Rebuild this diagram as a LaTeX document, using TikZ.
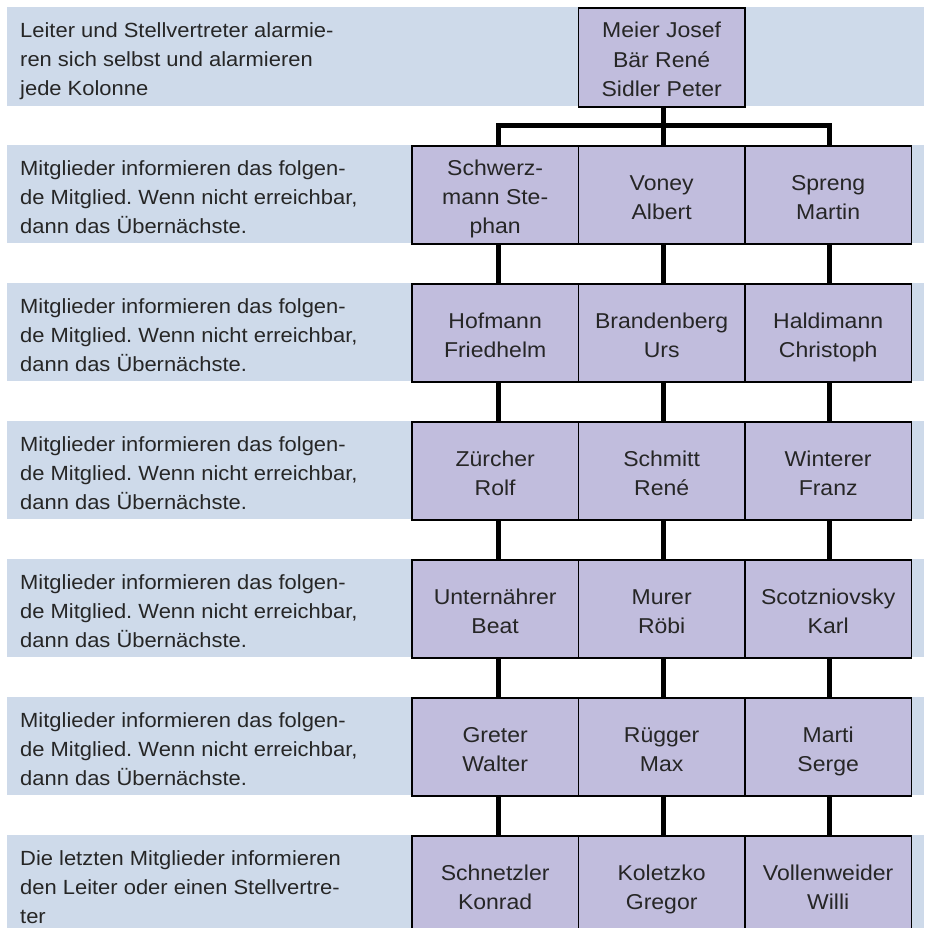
\documentclass[tikz,border=0pt]{standalone}
\usepackage{fontspec}
\usetikzlibrary{calc}
\setmainfont[FakeStretch=1.07]{Liberation Sans}
\frenchspacing
\definecolor{bandcol}{HTML}{CEDAEA}
\definecolor{boxcol}{HTML}{C1BDDD}
\definecolor{txtcol}{HTML}{262626}
\newcommand\srt{\rule{0pt}{24.9pt}}
\newcommand\srb{\rule[-5.5pt]{0pt}{0pt}}
\newcommand\pp[2]{\srt #1\\#2\srb}
\newcommand\ppp[3]{\srt #1\\#2\\#3\srb}
\tikzset{
  person/.style={draw=black, line width=1.8pt, fill=boxcol, minimum width=166.5pt,
    minimum height=98pt, inner sep=0pt, align=center, text=txtcol,
    font=\fontsize{21.5}{29.2}\selectfont},
  note/.style={anchor=north west, inner sep=0pt, align=left, text=txtcol,
    font=\fontsize{20.5}{29}\selectfont},
  conn/.style={line width=5pt, draw=black}
}
\newcommand\mkrow[6]{%
  \fill[bandcol] (7,#1) rectangle (924,#1+98);
  \node[note] at (20,#1+5.5) {#3};
  \node[person, anchor=north west] (#2a) at (411,#1) {#4};
  \node[person, anchor=north west] (#2b) at (577.5,#1) {#5};
  \node[person, anchor=north west] (#2c) at (744,#1) {#6};
}
\begin{document}
\begin{tikzpicture}[x=1pt,y=-1pt]
\useasboundingbox (0,0) rectangle (924,928);
\fill[white] (0,0) rectangle (924,928);
% top row
\fill[bandcol] (7,7) rectangle (924,106);
\node[note] (lead) at (20,12.5) {\ppp{Leiter und Stellvertreter alarmie-}{ren sich selbst und alarmieren}{jede Kolonne}};
\node[person, anchor=north west, minimum height=99pt] (top) at (577.5,7) {\ppp{Meier Josef}{Bär René}{Sidler Peter}};
% member rows
\mkrow{145}{ra}{\ppp{Mitglieder informieren das folgen-}{de Mitglied. Wenn nicht erreichbar,}{dann das Übernächste.}}{\ppp{Schwerz-}{mann Ste-}{phan}}{\pp{Voney}{Albert}}{\pp{Spreng}{Martin}}
\mkrow{283}{rb}{\ppp{Mitglieder informieren das folgen-}{de Mitglied. Wenn nicht erreichbar,}{dann das Übernächste.}}{\pp{Hofmann}{Friedhelm}}{\pp{Brandenberg}{Urs}}{\pp{Haldimann}{Christoph}}
\mkrow{421}{rc}{\ppp{Mitglieder informieren das folgen-}{de Mitglied. Wenn nicht erreichbar,}{dann das Übernächste.}}{\pp{Zürcher}{Rolf}}{\pp{Schmitt}{René}}{\pp{Winterer}{Franz}}
\mkrow{559}{rd}{\ppp{Mitglieder informieren das folgen-}{de Mitglied. Wenn nicht erreichbar,}{dann das Übernächste.}}{\pp{Unternährer}{Beat}}{\pp{Murer}{Röbi}}{\pp{Scotzniovsky}{Karl}}
\mkrow{697}{re}{\ppp{Mitglieder informieren das folgen-}{de Mitglied. Wenn nicht erreichbar,}{dann das Übernächste.}}{\pp{Greter}{Walter}}{\pp{Rügger}{Max}}{\pp{Marti}{Serge}}
\mkrow{835}{rf}{\ppp{Die letzten Mitglieder informieren}{den Leiter oder einen Stellvertre-}{ter}}{\pp{Schnetzler}{Konrad}}{\pp{Koletzko}{Gregor}}{\pp{Vollenweider}{Willi}}
% connectors
\coordinate (hub) at ($(top.south)+(2,18)$);
\draw[conn] ([xshift=2pt]top.south) -- (hub);
\draw[conn] ([xshift=3pt]raa.north) |- (hub) -| ([xshift=1pt]rac.north);
\draw[conn] (hub) -- ([xshift=2pt]rab.north);
\foreach \u/\v in {ra/rb, rb/rc, rc/rd, rd/re, re/rf}{
  \foreach \c/\s in {a/3,b/2,c/1}{
    \draw[conn] ([xshift=\s pt]\u\c.south) -- ([xshift=\s pt]\v\c.north);
  }
}
\end{tikzpicture}
\end{document}
